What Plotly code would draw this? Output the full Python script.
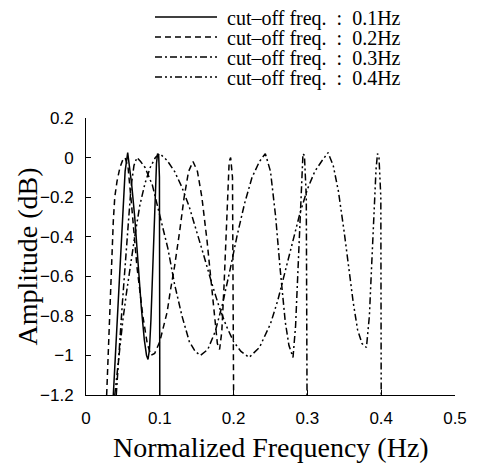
import plotly.graph_objects as go

# ---- data ----
names = ["\u00a0cut\u2013off freq.\u00a0\u00a0:\u00a0\u00a00.1Hz", "\u00a0cut\u2013off freq.\u00a0\u00a0:\u00a0\u00a00.2Hz",
         "\u00a0cut\u2013off freq.\u00a0\u00a0:\u00a0\u00a00.3Hz", "\u00a0cut\u2013off freq.\u00a0\u00a0:\u00a0\u00a00.4Hz"]
x_title = "Normalized Frequency (Hz)"
y_title = "Amplitude (dB)"

x01 = [0.037, 0.041, 0.046, 0.050, 0.053, 0.0565, 0.059, 0.062, 0.066, 0.071, 0.075, 0.079,
       0.082, 0.084, 0.086, 0.088, 0.090, 0.092, 0.094, 0.0955, 0.097, 0.0985, 0.0995, 0.1]
y01 = [-1.2, -0.92, -0.57, -0.27, -0.07, 0.025, -0.04, -0.14, -0.30, -0.57, -0.76, -0.92,
       -1.0, -1.02, -0.97, -0.82, -0.58, -0.34, -0.14, -0.03, 0.02, 0.01, -0.1, -1.2]

x02 = [0.028, 0.031, 0.034, 0.037, 0.039, 0.042, 0.046, 0.050, 0.053, 0.057, 0.062, 0.069,
       0.077, 0.083, 0.088, 0.093, 0.100, 0.110, 0.114, 0.120, 0.127, 0.133, 0.139, 0.145,
       0.151, 0.157, 0.164, 0.169, 0.174, 0.178, 0.181, 0.184, 0.187, 0.190, 0.192, 0.194,
       0.196, 0.1985, 0.2]
y02 = [-1.2, -0.9, -0.58, -0.32, -0.2, -0.12, -0.05, -0.01, 0.0, -0.05, -0.25, -0.55,
       -0.8, -0.94, -1.0, -0.99, -0.93, -0.78, -0.68, -0.55, -0.37, -0.2, -0.07, -0.02,
       -0.07, -0.2, -0.42, -0.62, -0.82, -0.94, -0.97, -0.88, -0.65, -0.35, -0.15, -0.02,
       0.0, -0.1, -1.2]

x03 = [0.041, 0.045, 0.049, 0.053, 0.057, 0.061, 0.065, 0.069, 0.074, 0.080, 0.090, 0.100,
       0.111, 0.120, 0.130, 0.140, 0.148, 0.155, 0.165, 0.175, 0.185, 0.195, 0.205, 0.215,
       0.225, 0.235, 0.243, 0.250, 0.257, 0.263, 0.270, 0.275, 0.2805, 0.284, 0.287, 0.290,
       0.292, 0.294, 0.296, 0.2985, 0.2995]
y03 = [-1.2, -0.95, -0.75, -0.55, -0.33, -0.15, -0.04, 0.0, -0.02, -0.05, -0.14, -0.29,
       -0.46, -0.64, -0.8, -0.93, -0.98, -1.0, -0.97, -0.88, -0.74, -0.57, -0.39, -0.23,
       -0.1, -0.02, 0.02, -0.07, -0.3, -0.56, -0.83, -0.95, -1.01, -0.85, -0.6, -0.3,
       -0.1, 0.02, 0.01, -0.2, -1.2]

x04 = [0.039, 0.045, 0.050, 0.055, 0.060, 0.066, 0.073, 0.080, 0.087, 0.094, 0.100, 0.110,
       0.120, 0.130, 0.140, 0.150, 0.160, 0.170, 0.180, 0.190, 0.200, 0.210, 0.221, 0.235,
       0.250, 0.260, 0.270, 0.280, 0.290, 0.300, 0.310, 0.320, 0.328, 0.335, 0.342, 0.350,
       0.356, 0.362, 0.368, 0.374, 0.380, 0.384, 0.387, 0.390, 0.393, 0.395, 0.397, 0.3995,
       0.4]
y04 = [-1.2, -0.98, -0.82, -0.68, -0.55, -0.4, -0.24, -0.13, -0.05, 0.0, 0.02, -0.015,
       -0.07, -0.15, -0.25, -0.37, -0.5, -0.63, -0.75, -0.85, -0.93, -0.98, -1.01, -0.96,
       -0.84, -0.72, -0.57, -0.43, -0.28, -0.16, -0.07, -0.015, 0.025, -0.04, -0.17, -0.38,
       -0.56, -0.73, -0.87, -0.94, -0.96, -0.8, -0.55, -0.3, -0.06, 0.02, 0.0, -0.2,
       -1.2]

xs = [x01, x02, x03, x04]
ys = [y01, y02, y03, y04]
dashes = ["solid", "6px,4px", "7px,3px,2px,3px", "7px,3px,2px,3px,2px,3px"]
legend_ids = ["legend", "legend2", "legend3", "legend4"]
row_y = [17, 37, 57, 77]

W, H = 482, 471
ML, MR, MT, MB = 86, 27, 118, 76
fig = go.Figure()
for i in range(4):
    fig.add_trace(go.Scatter(
        x=xs[i], y=ys[i], mode="lines", name=names[i],
        line=dict(color="black", width=1.5, dash=dashes[i]),
        legend=legend_ids[i],
    ))

leg_common = dict(
    xref="container", yref="container", xanchor="left", yanchor="middle",
    font=dict(family="Liberation Serif", size=20, color="black"),
    bgcolor="rgba(0,0,0,0)", itemwidth=62, borderwidth=0,
)
layout_legends = {}
for i, lid in enumerate(legend_ids):
    layout_legends[lid] = dict(leg_common, x=150 / W, y=1 - row_y[i] / H)

pw = W - ML - MR
ph = H - MT - MB
title_font = dict(family="Liberation Serif", size=28, color="black")

fig.update_layout(
    width=W, height=H,
    margin=dict(l=ML, r=MR, t=MT, b=MB, autoexpand=False),
    paper_bgcolor="white", plot_bgcolor="white",
    showlegend=True,
    **layout_legends,
    xaxis=dict(
        range=[0, 0.5], tickvals=[0, 0.1, 0.2, 0.3, 0.4, 0.5],
        ticktext=["0", "0.1", "0.2", "0.3", "0.4", "0.5"],
        ticks="inside", ticklen=5, tickcolor="black", showgrid=False, zeroline=False,
        showline=True, linecolor="black", linewidth=1, mirror=False,
        tickfont=dict(family="Liberation Sans", size=17, color="black"),
        ticklabelstandoff=8, automargin=False,
    ),
    yaxis=dict(
        range=[-1.2, 0.2], tickvals=[0.2, 0, -0.2, -0.4, -0.6, -0.8, -1, -1.2],
        ticktext=["0.2", "0", "\u22120.2", "\u22120.4", "\u22120.6", "\u22120.8", "\u22121", "\u22121.2"],
        ticks="inside", ticklen=5, tickcolor="black", showgrid=False, zeroline=False,
        showline=True, linecolor="black", linewidth=1, mirror=False,
        tickfont=dict(family="Liberation Sans", size=17, color="black"),
        ticklabelstandoff=8, automargin=False,
    ),
    annotations=[
        dict(text=x_title, xref="paper", yref="paper", x=0.5, y=-(447 - (MT + ph)) / ph,
             xanchor="center", yanchor="middle", showarrow=False, font=title_font),
        dict(text=y_title, xref="paper", yref="paper", x=-(ML - 27) / pw, y=0.5,
             xanchor="center", yanchor="middle", showarrow=False, textangle=-90, font=title_font),
    ],
)

fig.write_html("out.html")
